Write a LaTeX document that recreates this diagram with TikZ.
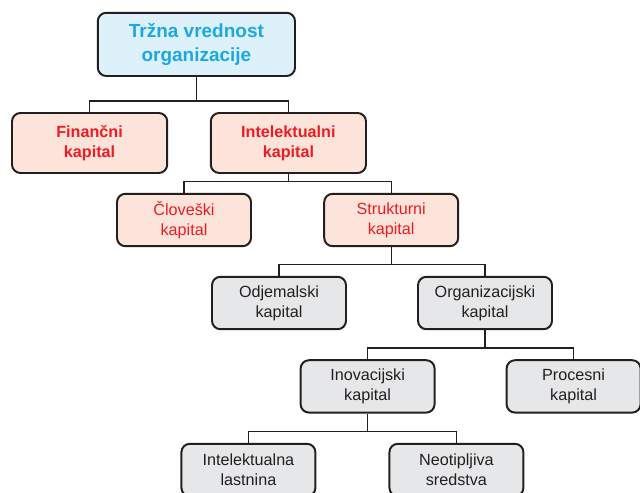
\documentclass[tikz,border=0pt]{standalone}
\usepackage{fontspec}
\setmainfont{Liberation Sans}
\usepackage{xcolor}
\usetikzlibrary{calc}
\definecolor{inkdark}{HTML}{231F20}
\definecolor{cyantext}{HTML}{1CA9E1}
\definecolor{softcyan}{HTML}{DDF1FA}
\definecolor{redtext}{HTML}{EC1C24}
\definecolor{softred}{HTML}{FDE4DA}
\definecolor{softgray}{HTML}{E6E7E8}
\tikzset{
  blk/.style={draw=inkdark, rounded corners=6pt, line width=1.4pt, align=center, inner sep=0pt,
    font=\fontsize{11.5}{14}\selectfont, minimum width=3.35cm, minimum height=1.31cm},
  blkb/.style={blk, fill=softcyan, text=cyantext, font=\fontsize{13.5}{16.5}\selectfont\bfseries,
    minimum width=4.93cm, minimum height=1.58cm},
  blkr/.style={blk, fill=softred, text=redtext},
  blkrb/.style={blkr, font=\fontsize{11.5}{14}\selectfont\bfseries, minimum width=3.88cm, minimum height=1.5cm},
  blkgy/.style={blk, fill=softgray, text=inkdark},
  ln/.style={draw=inkdark, line width=1pt},
}
\begin{document}
\begin{tikzpicture}
  \useasboundingbox (0,0) rectangle (16,12.3);
  \clip (0,0) rectangle (16,12.3);
  % levels of the tree
  \node[blkb] (trg) at (4.91,11.19) {Tržna vrednost\\organizacije};
  \node[blkrb] (fin) at (2.24,8.725) {Finančni\\kapital};
  \node[blkrb] (int) at (7.21,8.725) {Intelektualni\\kapital};
  \node[blkr] (clo) at (4.6,6.8) {Človeški\\kapital};
  \node[blkr] (str) at (9.78,6.8) {Strukturni\\kapital};
  \node[blkgy] (odj) at (6.975,4.725) {Odjemalski\\kapital};
  \node[blkgy] (org) at (12.125,4.725) {Organizacijski\\kapital};
  \node[blkgy] (ino) at (9.19,2.64) {Inovacijski\\kapital};
  \node[blkgy] (pro) at (14.34,2.64) {Procesni\\kapital};
  \node[blkgy] (ila) at (6.21,0.55) {Intelektualna\\lastnina};
  \node[blkgy] (neo) at (11.41,0.55) {Neotipljiva\\sredstva};
  % connectors
  \foreach \p/\a/\b in {trg/fin/int, int/clo/str, str/odj/org, org/ino/pro, ino/ila/neo}{
    \coordinate (\p-bar) at ($(\a.north)+(0,0.28)$);
    \draw[ln] (\a.north) |- (\p-bar) -| (\b.north);
    \draw[ln] (\p.south) -- (\p.south |- \p-bar);
  }
\end{tikzpicture}
\end{document}
